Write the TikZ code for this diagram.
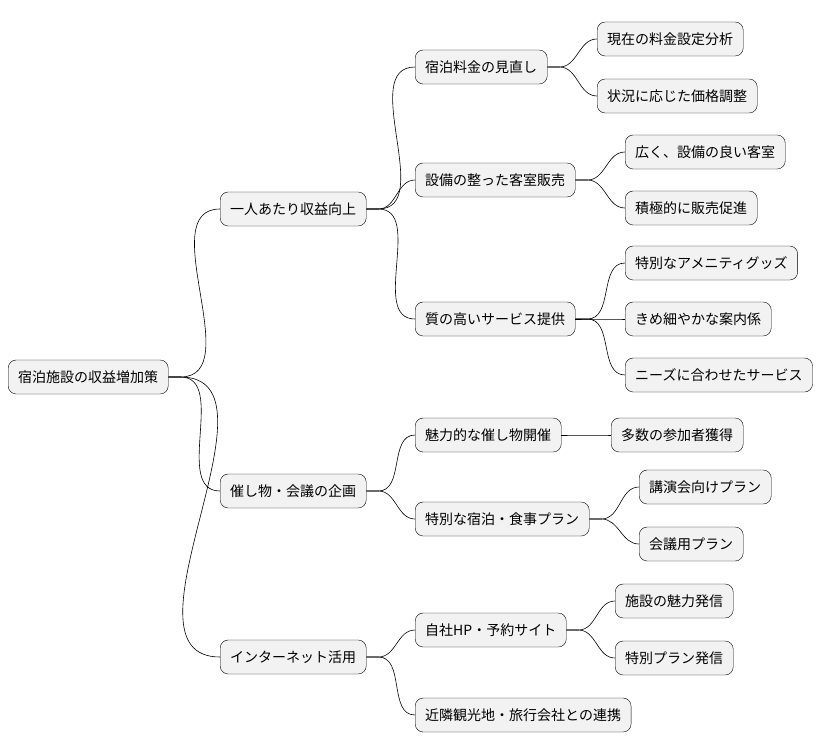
\documentclass[tikz,border=0pt]{standalone}
\usepackage{fontspec}
\newfontfamily\jpfont{Noto Sans CJK JP}
\usetikzlibrary{positioning}
\tikzset{
  topic/.style={draw=black, fill=black!5, rounded corners=8pt, minimum height=34pt,
    inner xsep=10pt, anchor=west, font=\jpfont\fontsize{14}{16}\selectfont},
  link/.style={draw=black, line width=0.6pt}
}
\begin{document}
\begin{tikzpicture}[x=1pt,y=-1pt]
\useasboundingbox (0,0) rectangle (824,752);
% root
\node[topic] (root) at (8,377) {宿泊施設の収益増加策};
% first level
\node[topic] (per) at (220,209) {一人あたり収益向上};
\node[topic] (event) at (220,491) {催し物・会議の企画};
\node[topic] (net) at (220,657) {インターネット活用};
% second level
\node[topic] (price) at (415,67) {宿泊料金の見直し};
\node[topic] (room) at (415,180) {設備の整った客室販売};
\node[topic] (serv) at (415,319) {質の高いサービス提供};
\node[topic] (show) at (415,435) {魅力的な催し物開催};
\node[topic] (plan) at (415,519) {特別な宿泊・食事プラン};
\node[topic] (hp) at (415,630) {自社HP・予約サイト};
\node[topic] (tour) at (415,715) {近隣観光地・旅行会社との連携};
% third level
\node[topic] (p1) at (597,39) {現在の料金設定分析};
\node[topic] (p2) at (597,96) {状況に応じた価格調整};
\node[topic] (r1) at (625,152) {広く、設備の良い客室};
\node[topic] (r2) at (625,208) {積極的に販売促進};
\node[topic] (s1) at (625,263) {特別なアメニティグッズ};
\node[topic] (s2) at (625,319) {きめ細やかな案内係};
\node[topic] (s3) at (625,375) {ニーズに合わせたサービス};
\node[topic] (e1) at (611,435) {多数の参加者獲得};
\node[topic] (l1) at (639,487) {講演会向けプラン};
\node[topic] (l2) at (639,544) {会議用プラン};
\node[topic] (h1) at (615,601) {施設の魅力発信};
\node[topic] (h2) at (615,658) {特別プラン発信};
% connectors
\foreach \a/\b in {root/per,root/event,root/net,
  per/price,per/room,per/serv,event/show,event/plan,net/hp,net/tour,
  price/p1,price/p2,room/r1,room/r2,serv/s1,serv/s2,serv/s3,
  show/e1,plan/l1,plan/l2,hp/h1,hp/h2}
  \draw[link] (\a.east) -- ++(12,0) to[out=0,in=180] (\b.west);
\end{tikzpicture}
\end{document}
